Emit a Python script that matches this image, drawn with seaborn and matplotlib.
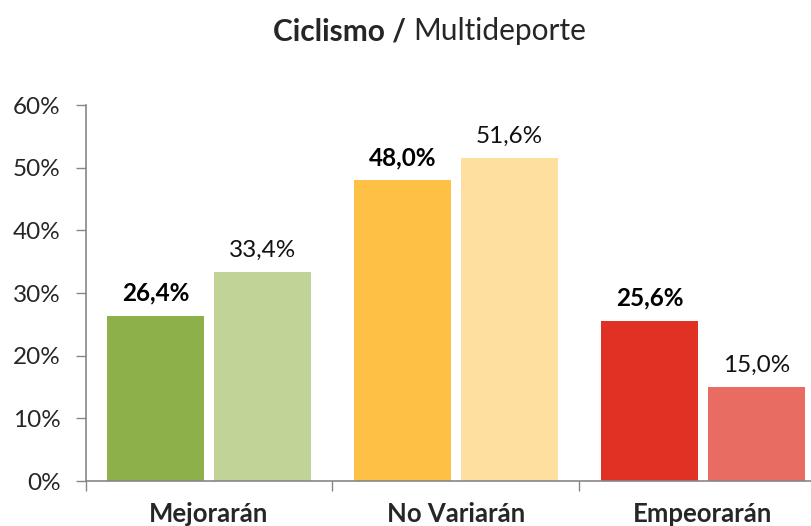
import numpy as np
import pandas as pd
import matplotlib.pyplot as plt
import seaborn as sns

# chart values
categorias = ['Mejorarán', 'No Variarán', 'Empeorarán']
ciclismo = [26.4, 48.0, 25.6]
multideporte = [33.4, 51.6, 15.0]
yticks = [0, 10, 20, 30, 40, 50, 60]

colores_oscuros = ['#8DB04A', '#FFC046', '#E03124']
colores_claros = ['#C1D396', '#FFDFA0', '#E96C62']

df = pd.DataFrame({
    'categoria': categorias * 2,
    'serie': ['Ciclismo'] * 3 + ['Multideporte'] * 3,
    'valor': ciclismo + multideporte,
})

sns.set_style('ticks')
plt.rcParams['font.family'] = ['Lato', 'DejaVu Sans']

fig = plt.figure(figsize=(8.11, 5.26), dpi=100)
ax = fig.add_axes([85.5 / 811, 45 / 526, 741 / 811, 376 / 526])

sns.barplot(data=df, x='categoria', y='valor', hue='serie', width=0.866, gap=0.0935,
            legend=False, linewidth=0, ax=ax)

# colour each bar by category
for bar, c in zip(ax.containers[0], colores_oscuros):
    bar.set_facecolor(c)
for bar, c in zip(ax.containers[1], colores_claros):
    bar.set_facecolor(c)

fmt = lambda v: f'{v:.1f}'.replace('.', ',') + '%'
ax.bar_label(ax.containers[0], labels=[fmt(v) for v in ciclismo], padding=8,
             fontsize=17.5, fontweight='bold', color='black')
ax.bar_label(ax.containers[1], labels=[fmt(v) for v in multideporte], padding=8,
             fontsize=17.5, color='#111111')

ax.set_ylim(0, 60)
ax.set_yticks(yticks)
ax.set_yticklabels([f'{t}%' for t in yticks], fontsize=17.5)
ax.tick_params(axis='y', length=7, width=1, color='#868686', pad=11)

ax.set_xlim(-0.5, 2.5)
ax.set_xticks([-0.5, 0.5, 1.5, 2.5])
ax.set_xticklabels([])
ax.set_xticks(range(len(categorias)), minor=True)
ax.set_xticklabels(categorias, minor=True, fontsize=18.5, fontweight='bold')
ax.tick_params(axis='x', which='major', length=7, width=1, color='#868686')
ax.tick_params(axis='x', which='minor', length=0, pad=15)

ax.set_xlabel('')
ax.set_ylabel('')
sns.despine(ax=ax)
for s in ['left', 'bottom']:
    ax.spines[s].set_color('#868686')
    ax.spines[s].set_linewidth(1.2)

# title: bold part + regular part, centred together
fig.canvas.draw()
r = fig.canvas.get_renderer()
t1 = fig.text(0, 0, 'Ciclismo / ', fontsize=21.5, fontweight='bold', va='center')
t2 = fig.text(0, 0, 'Multideporte', fontsize=21.5, va='center')
w1 = t1.get_window_extent(r).width
w2 = t2.get_window_extent(r).width
x0 = 430 - (w1 + w2) / 2
y0 = 1 - 31 / 526
t1.set_position((x0 / 811, y0))
t2.set_position(((x0 + w1) / 811, y0))

plt.savefig('out.png', dpi=100)
